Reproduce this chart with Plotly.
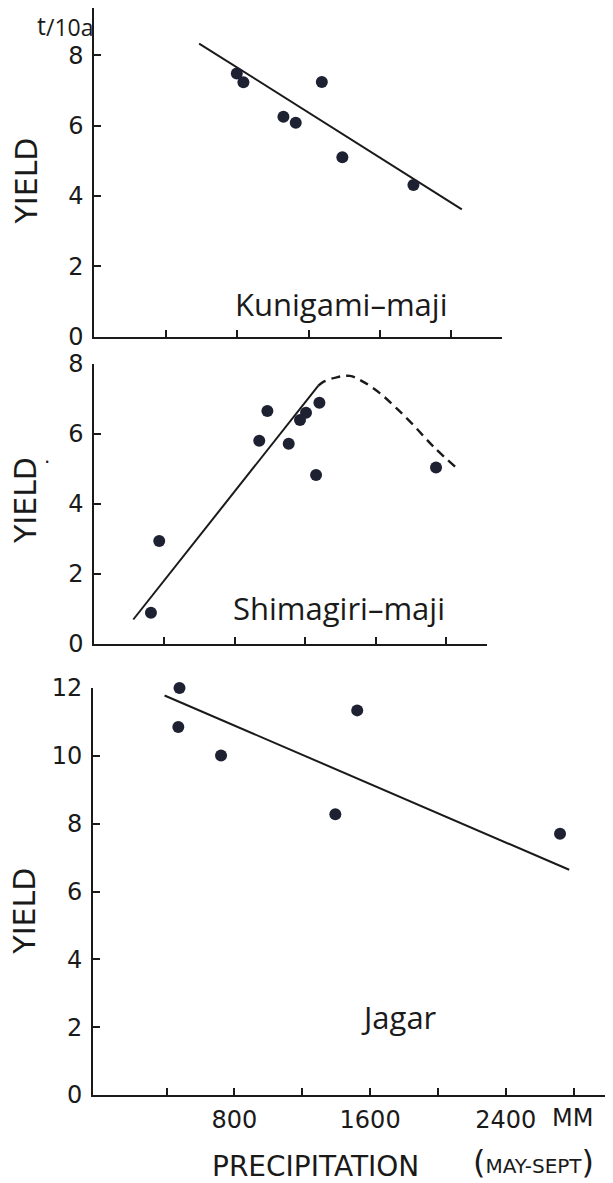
import plotly.graph_objects as go

# The page body has an 8px margin, so the figure is drawn 8px smaller and
# every target pixel position below is given in page (screenshot) coordinates.
VIEW_W, VIEW_H = 613, 1183
OFF = 8
W, H = VIEW_W - OFF, VIEW_H - OFF

# ---------------- data ----------------
# Kunigami-maji
kuni_precip = [798, 835, 1059, 1128, 1274, 1389, 1787]
kuni_yield = [7.48, 7.23, 6.25, 6.08, 7.24, 5.10, 4.31]
kuni_fit_precip = [587, 2058]
kuni_fit_yield = [8.33, 3.62]

# Shimagiri-maji
shima_precip = [325, 372, 939, 985, 1106, 1170, 1204, 1261, 1280, 1941]
shima_yield = [0.89, 2.94, 5.81, 6.66, 5.72, 6.40, 6.61, 4.83, 6.89, 5.04]
shima_fit_precip = [225, 1274]
shima_fit_yield = [0.70, 7.38]
shima_curve_precip = [1274, 1302, 1378, 1453, 1529, 1624, 1718, 1812, 1926, 2049]
shima_curve_yield = [7.38, 7.49, 7.62, 7.66, 7.49, 7.16, 6.73, 6.26, 5.64, 5.07]

# Jagar
jagar_precip = [476, 469, 721, 1524, 1395, 2720]
jagar_yield = [12.0, 10.85, 10.01, 11.34, 8.28, 7.70]
jagar_fit_precip = [388, 2774]
jagar_fit_yield = [11.78, 6.64]

top_xticks = [400, 800, 1200, 1600, 2000]
bottom_xticks = [400, 800, 1200, 1600, 2000, 2400, 2800]
bottom_xticklabels = ["", "800", "", "1600", "", "2400", ""]
yticks_8 = [0, 2, 4, 6, 8]
yticks_12 = [0, 2, 4, 6, 8, 10, 12]

# ---------------- styling ----------------
INK = "#1a1a1a"
DOT = "#1d2131"
NUM_FONT = dict(family="DejaVu Sans", size=24, color=INK)
LBL_FONT = "Open Sans"


def px_x(p):
    return min(1.0, max(0.0, (p - OFF) / W))


def px_y(p):
    return min(1.0, max(0.0, 1 - (p - OFF) / H))


fig = go.Figure()

marker = dict(size=12, color=DOT)
line = dict(color=INK, width=2)

# panel 1
fig.add_trace(go.Scatter(x=kuni_fit_precip, y=kuni_fit_yield, mode="lines",
                         line=line, xaxis="x", yaxis="y", cliponaxis=False))
fig.add_trace(go.Scatter(x=kuni_precip, y=kuni_yield, mode="markers",
                         marker=marker, xaxis="x", yaxis="y", cliponaxis=False))
# panel 2
fig.add_trace(go.Scatter(x=shima_fit_precip, y=shima_fit_yield, mode="lines",
                         line=line, xaxis="x2", yaxis="y2", cliponaxis=False))
fig.add_trace(go.Scatter(x=shima_curve_precip, y=shima_curve_yield, mode="lines",
                         line=dict(color=INK, width=2.4, dash="9px,6px", shape="spline"),
                         xaxis="x2", yaxis="y2", cliponaxis=False))
fig.add_trace(go.Scatter(x=shima_precip, y=shima_yield, mode="markers",
                         marker=marker, xaxis="x2", yaxis="y2", cliponaxis=False))
# panel 3
fig.add_trace(go.Scatter(x=jagar_fit_precip, y=jagar_fit_yield, mode="lines",
                         line=line, xaxis="x3", yaxis="y3", cliponaxis=False))
fig.add_trace(go.Scatter(x=jagar_precip, y=jagar_yield, mode="markers",
                         marker=marker, xaxis="x3", yaxis="y3", cliponaxis=False))

axis_common = dict(showline=True, linecolor=INK, linewidth=2, ticks="inside",
                   ticklen=7, tickwidth=1.5, tickcolor=INK, showgrid=False,
                   zeroline=False, tickfont=NUM_FONT, fixedrange=True,
                   automargin=False)

fig.update_layout(
    width=W, height=H,
    margin=dict(l=0, r=0, t=0, b=0, pad=0),
    paper_bgcolor="white", plot_bgcolor="white",
    showlegend=False,
    xaxis=dict(domain=[px_x(94.3), px_x(502)], range=[0, 2283], anchor="y",
               tickvals=top_xticks, showticklabels=False, **axis_common),
    yaxis=dict(domain=[px_y(336.7), px_y(8)], range=[0, 9.34], anchor="x",
               tickvals=yticks_8, ticklabelstandoff=4, **axis_common),
    xaxis2=dict(domain=[px_x(94.3), px_x(487)], range=[4, 2230], anchor="y2",
                tickvals=top_xticks, showticklabels=False, **axis_common),
    yaxis2=dict(domain=[px_y(644), px_y(364)], range=[0, 8], anchor="x2",
                tickvals=yticks_8, ticklabelstandoff=4, **axis_common),
    xaxis3=dict(domain=[px_x(93), px_x(607)], range=[-34, 2997], anchor="y3",
                tickvals=bottom_xticks, ticktext=bottom_xticklabels,
                ticklabelstandoff=2, **axis_common),
    yaxis3=dict(domain=[px_y(1095), px_y(688)], range=[0, 12], anchor="x3",
                tickvals=yticks_12, ticklabelstandoff=4, **axis_common),
)


def ann(text, x, y, size, family=LBL_FONT, angle=0, xanchor="center", yanchor="middle"):
    fig.add_annotation(text=text, x=(x - OFF) / W, y=1 - (y - OFF) / H,
                       xref="paper", yref="paper",
                       showarrow=False, textangle=angle, xanchor=xanchor,
                       yanchor=yanchor, font=dict(family=family, size=size, color=INK))


# y titles
ann("YIELD", 26, 181.5, 30, family="DejaVu Sans", angle=-90)
ann("YIELD", 26, 501, 30, family="DejaVu Sans", angle=-90)
ann(".", 47, 456, 20, family="DejaVu Sans")
ann("YIELD", 25, 911.7, 30, family="DejaVu Sans", angle=-90)

# unit label
ann("t", 41, 25.5, 25)
ann("/10a", 44, 27, 23, xanchor="left")

# variety labels
ann("Kunigami–maji", 341.5, 304, 31)
ann("Shimagiri–maji", 339, 608, 31)
ann("Jagar", 399, 1017, 31)

# x axis extras
ann("MM", 572, 1118, 24, family="DejaVu Sans")
ann("PRECIPITATION", 315, 1166, 28, family="DejaVu Sans")
ann("<span style='font-size:32px'>(</span>MAY-SEPT<span style='font-size:32px'>)</span>",
    533, 1162, 20, family="DejaVu Sans")

fig.write_html("out.html")
